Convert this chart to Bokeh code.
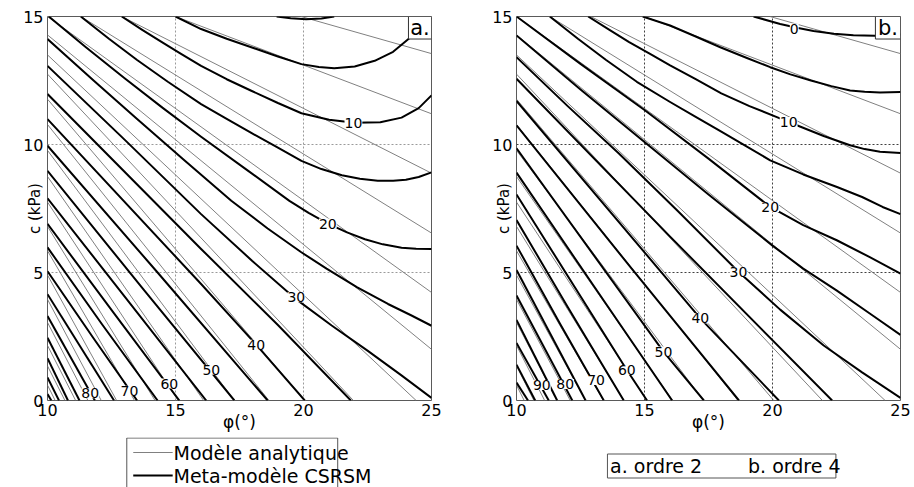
from bokeh.plotting import figure
from bokeh.models import Range1d, FixedTicker, ColumnDataSource, LabelSet
from bokeh.layouts import row, column
from bokeh.embed import file_html
from bokeh.resources import INLINE
from bokeh.core.properties import value

FONT = "DejaVu Sans"

# ---------------- data ----------------
levels = [0, 5, 10, 15, 20, 25, 30, 35, 40, 45, 50, 55, 60, 65, 70, 75, 80, 85, 90, 95, 100]

# analytical model contours (phi in degrees, c in kPa)
analytic_phi = [
    [19.9, 25], [15.0, 25], [12.9, 25], [11.3, 25], [10.0, 25], [10, 25],
    [10, 24.4], [10, 21.95], [10, 20.05], [10, 18.65], [10, 17.3], [10, 16.1],
    [10, 15.1], [10, 14.2], [10, 13.4], [10, 12.7], [10, 12.1], [10, 11.58],
    [10, 11.1], [10, 10.68], [10, 10.3],
]
analytic_c = [
    [15, 13.55], [15, 11.2], [15, 8.88], [15, 6.54], [15, 4.22], [14.28, 2.0],
    [13.5, 0], [12.75, 0], [11.77, 0], [10.78, 0], [9.77, 0], [8.75, 0],
    [7.75, 0], [6.8, 0], [5.85, 0], [4.9, 0], [3.95, 0], [3.05, 0],
    [2.15, 0], [1.35, 0], [0.6, 0],
]

# meta-model, order 2 (panel a)
meta2_phi = [
    [18.95, 19.5, 20.1, 20.7, 21.2],
    [15.0, 16.0, 17.0, 17.96, 19.0, 19.92, 20.6, 21.2, 22.0, 22.78, 23.5, 24.1, 24.6, 25],
    [12.9, 13.7, 14.5, 15.2, 16.0, 17.0, 17.96, 19.0, 19.92, 21.0, 22.0, 23.0, 23.83, 24.5, 25],
    [11.3, 12.4, 13.5, 14.7, 16.0, 17.0, 17.96, 19.0, 19.92, 20.7, 21.5, 22.2, 22.9, 23.5, 24.0, 24.5, 25],
    [10.05, 11.5, 13.0, 14.5, 16.0, 17.8, 19.45, 20.2, 20.95, 21.7, 22.4, 23.1, 23.83, 24.4, 25],
    [10, 11.8, 13.5, 15.3, 17.18, 18.6, 19.9, 20.9, 22.1, 23.3, 24.2, 25],
    [10, 13, 16, 18, 19.72, 21.1, 22.5, 23.8, 25],
    [10, 16.0, 19.0, 21.85],
    [10, 16.0, 18.15, 20.05],
    [10, 14.3, 18.6],
    [10, 13.7, 17.3],
    [10, 13.1, 16.2],
    [10, 12.6, 15.15],
    [10, 12.15, 14.3],
    [10, 11.75, 13.5],
    [10, 12.6],
    [10, 11.85],
    [10, 11.25],
    [10, 10.8],
    [10, 10.45],
    [10, 10.15],
]
meta2_c = [
    [15, 14.93, 14.89, 14.92, 15],
    [15, 14.51, 14.13, 13.8, 13.44, 13.14, 13.03, 12.98, 13.05, 13.27, 13.62, 14.12, 14.55, 14.94],
    [15, 14.48, 13.98, 13.55, 13.07, 12.55, 12.1, 11.62, 11.22, 10.97, 10.85, 10.87, 11.05, 11.42, 11.92],
    [15, 14.13, 13.3, 12.45, 11.58, 11.0, 10.45, 9.88, 9.36, 9.04, 8.8, 8.66, 8.58, 8.58, 8.62, 8.73, 8.91],
    [15, 13.8, 12.6, 11.43, 10.3, 9.0, 7.8, 7.33, 6.91, 6.57, 6.3, 6.1, 5.97, 5.93, 5.92],
    [14.12, 12.5, 11.0, 9.42, 7.8, 6.72, 5.8, 5.15, 4.42, 3.77, 3.33, 2.92],
    [13.07, 10.2, 7.28, 5.45, 3.95, 2.93, 1.95, 1.0, 0.1],
    [11.97, 5.92, 2.95, 0],
    [10.99, 4.55, 2.18, 0],
    [9.95, 5.0, 0],
    [8.97, 4.4, 0],
    [7.9, 3.95, 0],
    [6.9, 3.4, 0],
    [5.98, 2.95, 0],
    [5.05, 2.5, 0],
    [4.15, 0],
    [3.3, 0],
    [2.45, 0],
    [1.65, 0],
    [0.9, 0],
    [0.25, 0],
]

# meta-model, order 4 (panel b)
meta4_phi = [
    [19.26, 20.3, 21.0, 21.6, 22.4, 23.16, 24.0, 25],
    [14.93, 16.0, 17.0, 17.96, 19.0, 19.91, 20.7, 21.5, 22.3, 23.03, 23.6, 24.2, 25],
    [12.8, 13.6, 14.4, 15.2, 16.0, 17.0, 18.0, 19.1, 20.17, 20.95, 22.0, 23.03, 23.6, 24.2, 25],
    [11.3, 12.4, 13.5, 14.7, 16.0, 17.0, 18.0, 19.0, 19.91, 21.2, 22.52, 23.5, 24.3, 25],
    [10, 12.5, 15, 17.5, 19.91, 21.2, 22.51, 23.8, 25],
    [10, 12.5, 15, 17.5, 20, 21.2, 22.5, 23.8, 25],
    [10, 12, 14, 16.3, 18.67, 20.3, 22, 23.5, 25],
    [10, 16, 22.33],
    [10, 17.18, 20.25],
    [10, 14.5, 18.69],
    [10, 15.74, 17.32],
    [10, 13, 16.08],
    [10, 14.31, 15.1],
    [10, 12, 14.19],
    [10, 11.7, 13.41],
    [10, 12.7],
    [10, 12.18],
    [10, 11.59],
    [10, 11.26],
    [10, 10.73],
    [10, 10.45],
]
meta4_c = [
    [15, 14.71, 14.55, 14.43, 14.33, 14.27, 14.25, 14.3],
    [15, 14.65, 14.22, 13.8, 13.38, 13.02, 12.74, 12.5, 12.28, 12.11, 12.06, 12.03, 12.05],
    [15, 14.5, 14.0, 13.55, 13.09, 12.55, 12.0, 11.5, 11.07, 10.75, 10.33, 9.97, 9.82, 9.72, 9.67],
    [15, 14.13, 13.3, 12.45, 11.66, 11.08, 10.5, 9.92, 9.38, 8.83, 8.34, 7.95, 7.56, 7.28],
    [15, 13.15, 11.35, 9.45, 7.56, 6.85, 6.26, 5.6, 4.96],
    [14.26, 12.15, 10.1, 8.05, 6.05, 5.15, 4.3, 3.4, 2.56],
    [13.41, 11.5, 9.65, 7.4, 5.03, 3.55, 2.15, 1.1, 0.1],
    [12.57, 6.4, 0],
    [11.7, 3.21, 0],
    [10.75, 5.15, 0],
    [9.85, 1.91, 0],
    [8.9, 4.5, 0],
    [8.05, 1.19, 0],
    [7.05, 3.65, 0],
    [6.05, 3.0, 0],
    [5.1, 0],
    [4.1, 0],
    [3.15, 0],
    [2.25, 0],
    [1.4, 0],
    [0.7, 0],
]

# contour labels
labels_a_text = ["10", "20", "30", "40", "50", "60", "70", "80"]
labels_a_phi = [21.95, 20.95, 19.72, 18.15, 16.4, 14.76, 13.2, 11.67]
labels_a_c = [10.85, 6.91, 4.03, 2.18, 1.2, 0.66, 0.38, 0.28]

labels_b_text = ["0", "10", "20", "30", "40", "50", "60", "70", "80", "90"]
labels_b_phi = [20.85, 20.63, 19.91, 18.67, 17.18, 15.74, 14.31, 13.11, 11.9, 10.99]
labels_b_c = [14.53, 10.88, 7.56, 5.03, 3.21, 1.91, 1.19, 0.8, 0.64, 0.61]

x_ticks = [10, 15, 20, 25]
y_ticks = [0, 5, 10, 15]
legend_a_labels = ["Modèle analytique", "Meta-modèle CSRSM"]
legend_b_labels = ["a. ordre 2", "b. ordre 4"]


def make_panel(meta_phi, meta_c, lab_phi, lab_c, lab_text, tag, grid_color,
               left_border, right_border, box_left):
    p = figure(frame_width=384, frame_height=384,
               x_range=Range1d(10, 25), y_range=Range1d(0, 15),
               output_backend="svg", toolbar_location=None,
               min_border_left=left_border, min_border_right=right_border,
               min_border_top=16, min_border_bottom=37)
    p.background_fill_color = "white"
    p.outline_line_color = "#5a5a5a"
    p.outline_line_width = 1

    p.xaxis.ticker = FixedTicker(ticks=x_ticks)
    p.yaxis.ticker = FixedTicker(ticks=y_ticks)
    p.xgrid.ticker = FixedTicker(ticks=[15, 20])
    p.ygrid.ticker = FixedTicker(ticks=[5, 10])
    for g in (p.xgrid, p.ygrid):
        g.grid_line_color = grid_color
        g.grid_line_dash = "2 2"
        g.grid_line_width = 1

    for ax in (p.xaxis, p.yaxis):
        ax.axis_line_color = None
        ax.major_tick_line_color = None
        ax.minor_tick_line_color = None
        ax.major_tick_in = 0
        ax.major_tick_out = 0
        ax.minor_tick_in = 0
        ax.minor_tick_out = 0
        ax.major_label_text_font = FONT
        ax.major_label_text_font_size = "16px"
        ax.major_label_text_color = "black"
        ax.axis_label_text_font = FONT
        ax.axis_label_text_font_style = "normal"
        ax.axis_label_text_color = "black"

    p.xaxis.axis_label = "φ(°)"
    p.xaxis.axis_label_text_font_size = "17px"
    p.xaxis.major_label_standoff = 3
    p.xaxis.axis_label_standoff = -7
    p.yaxis.axis_label = "c (kPa)"
    p.yaxis.axis_label_text_font_size = "15px"
    p.yaxis.major_label_standoff = 4
    p.yaxis.axis_label_standoff = -24

    p.multi_line(xs=analytic_phi, ys=analytic_c, line_color="#808080", line_width=1)
    p.multi_line(xs=meta_phi, ys=meta_c, line_color="black", line_width=2,
                 line_join="round")

    src = ColumnDataSource(dict(x=lab_phi, y=lab_c, t=lab_text))
    ls = LabelSet(x="x", y="y", text="t", source=src,
                  text_align="center", text_baseline="middle",
                  text_font=value(FONT), text_font_size="14px",
                  text_color="black", background_fill_color="white")
    p.add_layout(ls)

    # panel tag box in the upper right corner
    p.quad(left=[box_left], right=[25], top=[15], bottom=[14.12],
           fill_color="white", line_color="#333333", line_width=1)
    p.text(x=[(box_left + 25) / 2], y=[14.56], text=[tag],
           text_align="center", text_baseline="middle",
           text_font=value(FONT), text_font_size="21px", text_color="black")
    return p


pa = make_panel(meta2_phi, meta2_c, labels_a_phi, labels_a_c, labels_a_text,
                "a.", "#9a9a9a", 47, 46, 24.1)
pb = make_panel(meta4_phi, meta4_c, labels_b_phi, labels_b_c, labels_b_text,
                "b.", "#404040", 39, 14, 24.02)


def legend_fig(w, h):
    f = figure(width=w, height=h, x_range=Range1d(0, w), y_range=Range1d(h, 0),
               output_backend="svg", toolbar_location=None, min_border=0,
               x_axis_location=None, y_axis_location=None)
    f.outline_line_color = None
    f.grid.visible = False
    return f


LH = 50
# legend of panel a
la = legend_fig(477, LH)
la.line(x=[98.5, 98.5, 360.5, 360.5], y=[LH, 0.5, 0.5, LH], line_color="#555555", line_width=1)
la.line(x=[106.5, 155.5], y=[15, 15], line_color="#808080", line_width=1)
la.line(x=[106.5, 155.5], y=[38, 38], line_color="black", line_width=2)
la.text(x=[156.5, 156.5], y=[15, 38], text=legend_a_labels,
        text_align="left", text_baseline="middle",
        text_font=value(FONT), text_font_size="19px", text_color="black")

# legend of panel b
lb = legend_fig(437, LH)
lb.quad(left=[103.5], right=[363.5], top=[16.5], bottom=[40.5],
        fill_color=None, line_color="#555555", line_width=1)
lb.text(x=[106.5, 263.5], y=[28, 28], text=legend_b_labels,
        text_align="left", text_baseline="middle",
        text_font=value(FONT), text_font_size="19px", text_color="black")

layout = row(column(pa, la), column(pb, lb))

open("out.html", "w").write(file_html(layout, INLINE))
